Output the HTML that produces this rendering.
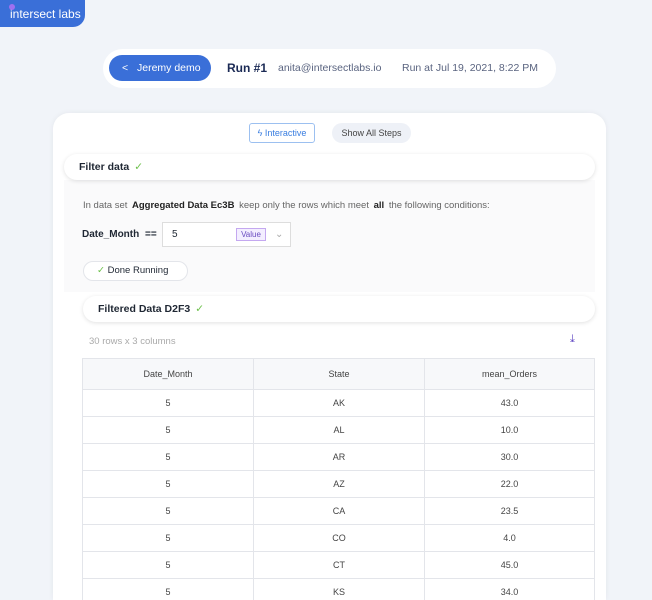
<!DOCTYPE html><html style="width:652px;height:600px;overflow:hidden"><head><style>
*{box-sizing:border-box;margin:0;padding:0}
body{width:652px;height:600px;overflow:hidden;background:#f1f4f9;font-family:"Liberation Sans",sans-serif;color:#1f2733}
#w{position:relative;width:652px;height:600px;overflow:hidden}
.a{position:absolute;white-space:nowrap}
.logo{left:0;top:0;width:85px;height:27px;background:#3a6fd8;border-radius:0 0 12px 0;color:#fff;font-size:12px;padding:7px 0 0 10px}
.dot{left:9px;top:4px;width:6px;height:6px;border-radius:50%;background:#a070f0}
.hdr{left:103px;top:49px;width:453px;height:39px;background:#fff;border-radius:20px}
.btn{left:109px;top:55px;width:102px;height:26px;background:#3a6fd8;border-radius:13px;color:#fff;font-size:10.5px;line-height:26px;padding-left:28px}
.card{left:53px;top:113px;width:553px;height:487px;background:#fff;border-radius:16px 16px 0 0;box-shadow:0 0 6px rgba(0,0,0,.06)}
.bar{background:#fff;border-radius:13px;box-shadow:0 1px 4px rgba(0,0,0,.12);font-size:10.5px;font-weight:bold;line-height:26px;padding-left:15px}
.ck{color:#6cc04a;font-weight:normal;margin-left:5px}
.tw{left:82px;top:358px;width:513px;height:242px;overflow:hidden}
table{border-collapse:collapse;font-size:9px;color:#444;text-align:center;width:513px}
td,th{border:1px solid #e3e5ea;height:27px;font-weight:normal}
th{height:31px;background:#f7f8fa}
</style></head><body><div id="w">
<div class="a logo">intersect labs</div><div class="a dot"></div>
<div class="a hdr"></div>
<div class="a btn"><span class="a" style="left:13px">&lt;</span>Jeremy demo</div>
<div class="a" style="left:227px;top:61px;font-size:12px;font-weight:bold;color:#1b2a55">Run #1</div>
<div class="a" style="left:278px;top:62px;font-size:10.5px;color:#5a6480">anita@intersectlabs.io</div>
<div class="a" style="left:402px;top:62px;font-size:10.5px;color:#5a6480">Run at Jul 19, 2021, 8:22 PM</div>
<div class="a card"></div>
<div class="a" style="left:249px;top:123px;width:66px;height:20px;border:1px solid #9cc0f0;border-radius:3px;color:#3a7ee0;font-size:9px;line-height:18px;text-align:center">ϟ Interactive</div>
<div class="a" style="left:332px;top:123px;width:79px;height:20px;background:#eef1f7;border-radius:10px;color:#444;font-size:9px;line-height:20px;text-align:center">Show All Steps</div>
<div class="a" style="left:64px;top:180px;width:531px;height:112px;background:#fafafb"></div>
<div class="a bar" style="left:64px;top:154px;width:531px">Filter data<span class="ck">✓</span></div>
<div class="a" style="left:83px;top:200px;font-size:9.5px;color:#666">In data set <b style="color:#222;margin:0 2px">Aggregated Data Ec3B</b> keep only the rows which meet <b style="color:#222;margin:0 2px">all</b> the following conditions:</div>
<div class="a" style="left:82px;top:229px;font-size:10px;font-weight:bold">Date_Month <span style="margin-left:3px">==</span></div>
<div class="a" style="left:162px;top:222px;width:129px;height:25px;border:1px solid #ddd;background:#fff;font-size:10px;line-height:23px;padding-left:9px">5<span class="a" style="left:73px;top:5px;width:30px;height:13px;border:1px solid #c4a8f0;background:#f3eeff;color:#6a4cc0;font-size:8px;line-height:11px;text-align:center">Value</span><span class="a" style="left:112px;color:#aaa">⌄</span></div>
<div class="a" style="left:83px;top:261px;width:105px;height:20px;border:1px solid #e3e5ea;border-radius:10px;background:#fff;font-size:9.5px;line-height:18px;padding-left:13px"><span style="color:#6cc04a">✓</span> Done Running</div>
<div class="a bar" style="left:83px;top:296px;width:512px">Filtered Data D2F3<span class="ck">✓</span></div>
<div class="a" style="left:89px;top:336px;font-size:9.5px;color:#aaa">30 rows x 3 columns</div>
<div class="a" style="left:570px;top:333px;font-size:11px;color:#5a40c0">⤓</div>
<div class="a tw"><table>
<tr><th style="width:171px">Date_Month</th><th style="width:171px">State</th><th>mean_Orders</th></tr>
<tr><td>5</td><td>AK</td><td>43.0</td></tr>
<tr><td>5</td><td>AL</td><td>10.0</td></tr>
<tr><td>5</td><td>AR</td><td>30.0</td></tr>
<tr><td>5</td><td>AZ</td><td>22.0</td></tr>
<tr><td>5</td><td>CA</td><td>23.5</td></tr>
<tr><td>5</td><td>CO</td><td>4.0</td></tr>
<tr><td>5</td><td>CT</td><td>45.0</td></tr>
<tr><td>5</td><td>KS</td><td>34.0</td></tr>
</table></div>
</div></body></html>
